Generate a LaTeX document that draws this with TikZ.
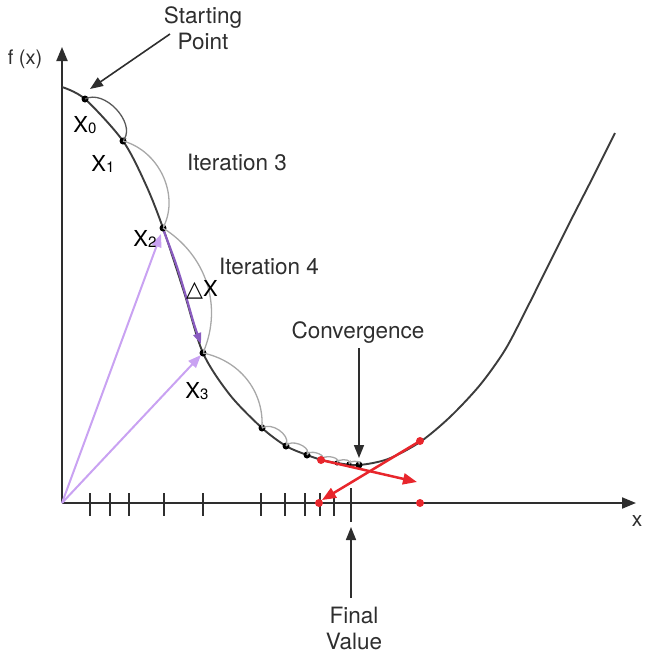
\documentclass[tikz,border=0pt]{standalone}
\usepackage{fontspec}
\setmainfont{TeX Gyre Heros}
\newfontfamily\djv{DejaVu Sans}
\usetikzlibrary{arrows.meta}
\definecolor{ink}{HTML}{2E2E2E}
\definecolor{curvec}{HTML}{3C3C3C}
\definecolor{arcc}{HTML}{A8A8A8}
\definecolor{lav}{HTML}{C9A2F2}
\definecolor{lavdark}{HTML}{8A5CC0}
\definecolor{redc}{HTML}{E8262C}
\begin{document}
\begin{tikzpicture}[x=1pt,y=-1pt,
  lbl/.style={inner sep=0pt, text=ink, font=\fontsize{22.5}{26}\selectfont, align=center},
  xl/.style={inner sep=0pt, text=black, font=\fontsize{22}{24}\selectfont},
  dot/.style={circle, fill=black, inner sep=0pt, minimum size=7pt},
  rdot/.style={circle, fill=redc, inner sep=0pt, minimum size=8pt},
  axis/.style={line width=2pt, draw=ink, -{Triangle[length=14pt,width=11pt]}},
  tick/.style={line width=1.8pt, draw=ink},
  arcl/.style={draw=arcc, line width=1.3pt, -{Stealth[length=4pt,width=3pt]}},
  callout/.style={draw=ink, line width=1.6pt, -{Triangle[length=13pt,width=10pt]}},
  purp/.style={draw=lav, line width=2pt, -{Triangle[length=13pt,width=10pt]}},
  redarr/.style={draw=redc, line width=2.5pt, -{Triangle[length=14pt,width=11pt]}}
]
\useasboundingbox (0,0) rectangle (650,654);

% axes
\coordinate (O) at (62,503);
\coordinate (ytop) at (62,47);
\coordinate (xend) at (636,503);
\draw[axis] (O) -- (ytop);
\draw[axis] (O) -- (xend);

% ticks
\foreach \t in {90,110,129,164,203,261,285,305,320,334}
  \draw[tick] (\t,493) -- (\t,516);
\draw[tick] (351,488) -- (351,522);

% main curve
\draw[curvec, line width=1.9pt] plot[smooth, tension=0.5] coordinates {
 (62,87) (85,99) (123,141) (146,185) (163,228) (184,292) (203,353) (230,395)
 (262,428) (286,446) (307,455) (322,460) (337,463) (359,465) (388,459) (420,442)
 (450,417) (480,385) (505,350) (525,312) (548,266) (570,222) (593,177) (615,133)};

% purple delta-x along curve
\draw[draw=lavdark, line width=2.2pt, -{Triangle[length=11pt,width=8pt]}]
  plot[smooth, tension=0.55] coordinates {(163,229) (176,264) (185,293) (194,324) (201,344)};

% points on the curve
\node[dot] (p0) at (85,99) {};
\node[dot] (p1) at (123,141) {};
\node[dot] (p2) at (163,228) {};
\node[dot] (p3) at (203,353) {};
\node[dot] (p4) at (262,428) {};
\node[dot] (p5) at (286,446) {};
\node[dot] (p6) at (307,455) {};
\node[dot, minimum size=5pt] (p7) at (337,463) {};
\node[dot, minimum size=5pt] (p8) at (349,464) {};
\node[dot] (p9) at (359,465) {};

% iteration arcs
\draw[arcl, draw=ink!80] (p0.center) to[bend left=75] (p1.center);
\draw[arcl] (p1.center) to[bend left=50] (p2.center);
\draw[arcl] (p2.center) to[bend left=40] (p3.center);
\draw[arcl] (p3.center) to[bend left=40] (p4.center);
\draw[arcl] (p4.center) to[bend left=70] (p5.center);
\draw[arcl] (p5.center) to[bend left=80] (p6.center);
\draw[arcl] (p6.center) to[bend left=90] (322,460);
\draw[arcl] (322,460) to[bend left=90] (p7.center);
\draw[arcl] (p7.center) to[bend left=90] (p8.center);
\draw[arcl] (p8.center) to[bend left=90] (p9.center);

% purple vectors
\draw[purp] (O) -- (161,234);
\draw[purp] (O) -- (201,355);

% red points and arrows
\node[rdot] (r1) at (321,460) {};
\node[rdot] (r2) at (420,441) {};
\node[rdot] (r3) at (319,503) {};
\node[rdot] (r4) at (420,503) {};
\coordinate (r1end) at (417,482);
\draw[redarr] (r1.center) -- (r1end);
\draw[redarr] (r2.center) -- (r3.north east);

% labels
\node[lbl] (start) at (203,28) {Starting\\Point};
\draw[callout] (170,34) -- (90,89);
\node[lbl, font=\fontsize{20}{24}\selectfont] (fx) at (25,59) {f (x)};
\node[lbl, font=\fontsize{21}{24}\selectfont] (xlab) at (637,521) {x};
\node[lbl] (it3) at (237,162) {Iteration 3};
\node[lbl] (it4) at (269,266) {Iteration 4};
\node[lbl] (conv) at (358,333) {Convergence};
\draw[callout] (conv.south -| p9) ++(0,4) coordinate (cvtop) -- (359,458);
\node[lbl] (final) at (354,628) {Final\\Value};
\coordinate (fvtip) at (351,527);
\draw[callout] (351,598) -- (fvtip);

\node[xl] (lx0) at (85,125) {X{\fontsize{15}{15}\selectfont\raisebox{-1pt}{0}}};
\node[xl] (lx1) at (103,164) {X{\fontsize{15}{15}\selectfont\raisebox{-1pt}{1}}};
\node[xl] (lx2) at (145,239) {X{\fontsize{15}{15}\selectfont\raisebox{-1pt}{2}}};
\node[xl] (lx3) at (197,391) {X{\fontsize{15}{15}\selectfont\raisebox{-1pt}{3}}};
\node[xl, anchor=east] (dx) at (218,290) {{\djv\fontsize{22}{22}\selectfont △}X};
\end{tikzpicture}
\end{document}
